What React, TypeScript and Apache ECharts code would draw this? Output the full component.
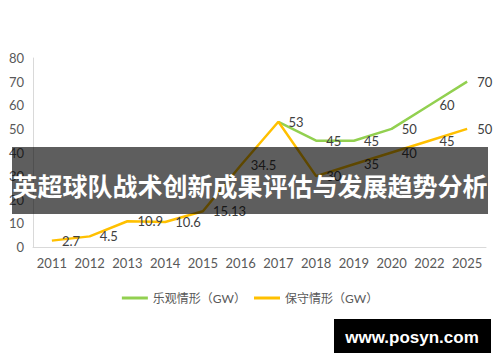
import React, { useEffect, useRef } from "react";
import * as echarts from "echarts";

const years = ["2011", "2012", "2013", "2014", "2015", "2016", "2017", "2018", "2019", "2020", "2022", "2025"];
const optimistic: (number | null)[] = [null, null, null, null, null, null, 53, 45, 45, 50, 60, 70];
const conservative = [2.7, 4.5, 10.9, 10.6, 15.13, 34.5, 53, 30, 35, 40, 45, 50];
const yTicks = { min: 0, max: 80, interval: 10 };
const seriesNames = ["乐观情形（GW）", "保守情形（GW）"];
const titleText = "英超球队战术创新成果评估与发展趋势分析";
const watermark = "www.posyn.com";

const FONT = "Lato, 'Noto Sans CJK SC', sans-serif";

export default function App() {
  const ref = useRef<HTMLDivElement>(null);
  useEffect(() => {
    document.body.style.margin = "0";
    if (!ref.current) return;
    const chart = echarts.init(ref.current, undefined, { renderer: "svg" });
    const labelStyle = {
      show: true,
      position: "right" as const,
      distance: 10,
      color: "#404040",
      fontSize: 13,
      fontFamily: FONT,
    };
    chart.setOption({
      animation: false,
      backgroundColor: "#ffffff",
      grid: { left: 33, right: 14, top: 58, bottom: 115, containLabel: false },
      legend: {
        top: 287,
        left: "center",
        itemWidth: 26,
        itemHeight: 3,
        itemGap: 8,
        icon: "rect",
        textStyle: { color: "#595959", fontSize: 12, fontFamily: FONT },
        data: seriesNames,
      },
      xAxis: {
        type: "category",
        data: years,
        boundaryGap: true,
        axisLine: { show: true, lineStyle: { color: "#d9d9d9", width: 1 } },
        axisTick: { show: false },
        axisLabel: { color: "#595959", fontSize: 13, margin: 9, interval: 0, fontFamily: FONT },
        splitLine: { show: false },
      },
      yAxis: {
        type: "value",
        min: yTicks.min,
        max: yTicks.max,
        interval: yTicks.interval,
        axisLine: { show: true, lineStyle: { color: "#d9d9d9", width: 1 } },
        axisTick: { show: false },
        axisLabel: { color: "#595959", fontSize: 13, margin: 9, fontFamily: FONT },
        splitLine: { show: false },
      },
      series: [
        {
          name: seriesNames[1],
          type: "line",
          data: conservative,
          showSymbol: true,
          symbol: "circle",
          symbolSize: 0.1,
          lineStyle: { color: "#ffc000", width: 2.5 },
          itemStyle: { color: "#ffc000" },
          label: {
            ...labelStyle,
            formatter: (p: any) => (p.dataIndex === 6 ? "" : String(p.value)),
          },
          labelLayout: { hideOverlap: false },
          z: 3,
        },
        {
          name: seriesNames[0],
          type: "line",
          data: optimistic,
          showSymbol: true,
          symbol: "circle",
          symbolSize: 0.1,
          lineStyle: { color: "#92d050", width: 2.5 },
          itemStyle: { color: "#92d050" },
          label: labelStyle,
          labelLayout: { hideOverlap: false },
          z: 2,
        },
      ],
      graphic: [
        {
          type: "rect",
          shape: { x: 12, y: 147, width: 476, height: 67 },
          style: { fill: "rgba(0,0,0,0.63)" },
          z: 100,
        },
        {
          type: "text",
          x: 250,
          y: 185,
          style: {
            text: titleText,
            fill: "#ffffff",
            fontSize: 25,
            fontWeight: "bold",
            fontFamily: "'Noto Sans CJK SC', sans-serif",
            align: "center",
            verticalAlign: "middle",
          },
          z: 101,
        },
        {
          type: "rect",
          shape: { x: 334, y: 319, width: 157, height: 34 },
          style: { fill: "#000000" },
          z: 100,
        },
        {
          type: "text",
          x: 412,
          y: 337,
          style: {
            text: watermark,
            fill: "#ffffff",
            fontSize: 17,
            fontWeight: "bold",
            fontFamily: "'Liberation Sans', sans-serif",
            align: "center",
            verticalAlign: "middle",
          },
          z: 101,
        },
      ],
    });
    return () => chart.dispose();
  }, []);
  return <div ref={ref} style={{ width: 500, height: 362 }} />;
}
